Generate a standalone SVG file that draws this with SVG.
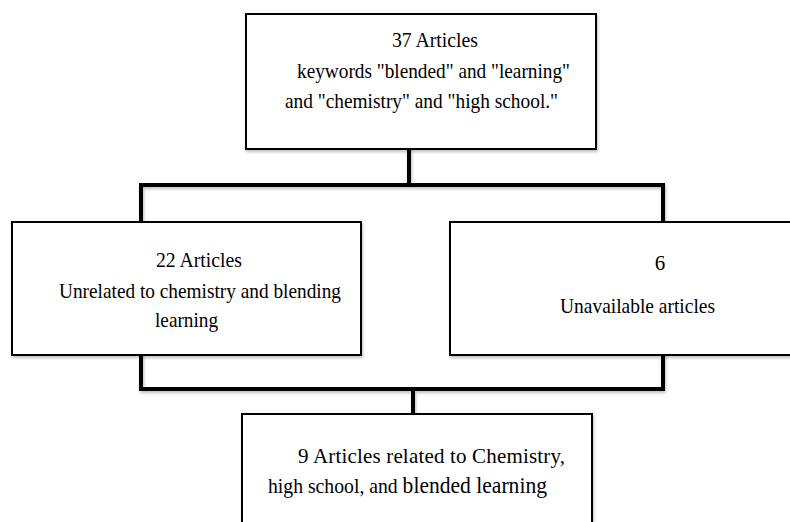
<svg xmlns="http://www.w3.org/2000/svg" width="790" height="522" viewBox="0 0 790 522">
  <style>
    .box { fill: #ffffff; stroke: #000000; stroke-width: 2; }
    .conn { fill: none; stroke: #000000; stroke-width: 4; stroke-linejoin: miter; stroke-linecap: square; }
    text { font-family: "Liberation Serif", "Times New Roman", serif; font-size: 21px; fill: #000000; }
  </style>
  <defs>
    <filter id="sh" x="-5%" y="-5%" width="115%" height="130%">
      <feDropShadow dx="1" dy="2" stdDeviation="1.5" flood-color="#000" flood-opacity="0.25"/>
    </filter>
  </defs>
  <rect width="790" height="522" fill="#ffffff"/>

  <g id="connectors" filter="url(#sh)">
    <polyline class="conn" points="409,149 409,185"/>
    <polyline class="conn" points="141,226 141,185 663,185 663,222"/>
    <polyline class="conn" points="141,355 141,389 663,389 663,355"/>
    <polyline class="conn" points="413,389 413,421"/>
  </g>

  <g id="node-top">
    <rect class="box" x="246" y="14" width="350" height="135" filter="url(#sh)"/>
    <text x="392" y="47" textLength="86" lengthAdjust="spacingAndGlyphs">37 Articles</text>
    <text x="297" y="78" textLength="273" lengthAdjust="spacingAndGlyphs">keywords "blended" and "learning"</text>
    <text x="285" y="108" textLength="273" lengthAdjust="spacingAndGlyphs">and "chemistry" and "high school."</text>
  </g>

  <g id="node-left">
    <rect class="box" x="12" y="222" width="349" height="133" filter="url(#sh)"/>
    <text x="156" y="267" textLength="86" lengthAdjust="spacingAndGlyphs">22 Articles</text>
    <text x="59" y="298" textLength="282" lengthAdjust="spacingAndGlyphs">Unrelated to chemistry and blending</text>
    <text x="155" y="327" textLength="63" lengthAdjust="spacingAndGlyphs">learning</text>
  </g>

  <g id="node-right">
    <rect class="box" x="450" y="222" width="345" height="133" filter="url(#sh)"/>
    <text x="660" y="270" text-anchor="middle">6</text>
    <text x="560" y="313" textLength="155" lengthAdjust="spacingAndGlyphs">Unavailable articles</text>
  </g>

  <g id="node-bottom">
    <rect class="box" x="242" y="414" width="350" height="115" filter="url(#sh)"/>
    <text x="298" y="463" textLength="267" lengthAdjust="spacing">9 Articles related to Chemistry,</text>
    <text x="268" y="493" textLength="279" lengthAdjust="spacingAndGlyphs">high school, and <tspan font-size="23">blended learning</tspan></text>
  </g>
</svg>
